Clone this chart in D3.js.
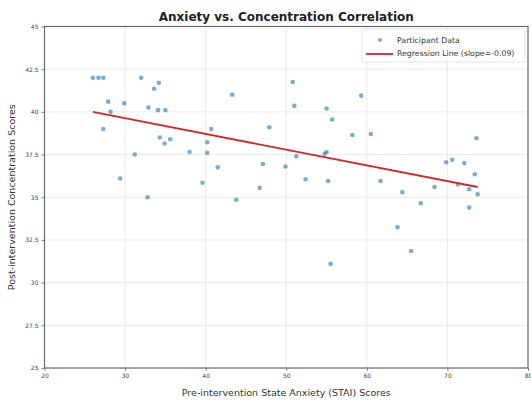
<!DOCTYPE html>
<html>
<head>
<meta charset="utf-8">
<script src="https://cdn.jsdelivr.net/npm/d3@7"></script>
<style>
  html, body { margin: 0; padding: 0; background: #fff; }
  svg { display: block; }
  text { font-family: "DejaVu Sans", sans-serif; }
</style>
</head>
<body>
<svg id="chart" width="531" height="400"></svg>
<script>
const anxiety = [26.0, 26.7, 27.3, 27.9, 28.2, 27.3, 29.4, 29.9, 31.2, 32.0,
  32.8, 32.9, 33.6, 34.2, 34.1, 35.0, 34.3, 34.9, 35.6, 38.0,
  39.6, 40.2, 40.2, 40.7, 41.5, 43.3, 43.8, 46.7, 47.1, 47.9,
  49.9, 50.8, 51.0, 51.25, 52.4, 54.75, 55.0, 55.0, 55.2, 55.5,
  55.7, 58.2, 59.3, 60.5, 61.7, 63.8, 64.4, 65.5, 66.7, 68.4,
  69.85, 70.6, 71.3, 72.1, 72.7, 72.7, 73.4, 73.6, 73.75];
const concentration = [42.0, 42.0, 42.0, 40.6, 40.0, 39.0, 36.1, 40.5, 37.5, 42.0,
  35.0, 40.25, 41.35, 41.7, 40.1, 40.1, 38.5, 38.15, 38.4, 37.65,
  35.85, 38.22, 37.6, 39.0, 36.75, 41.0, 34.85, 35.55, 36.95, 39.1,
  36.8, 41.75, 40.35, 37.4, 36.05, 37.55, 37.65, 40.2, 35.95, 31.1,
  39.55, 38.65, 40.95, 38.7, 35.95, 33.25, 35.3, 31.85, 34.65, 35.6,
  37.05, 37.2, 35.75, 37.0, 35.47, 34.4, 36.35, 38.45, 35.17];
const regressionX = [26.0, 73.75];
const regressionY = [40.0, 35.6];
const xTicks = [20, 30, 40, 50, 60, 70, 80];
const yTicks = [25, 27.5, 30, 32.5, 35, 37.5, 40, 42.5, 45];
const seriesNames = ["Participant Data", "Regression Line (slope=-0.09)"];
const titleText = "Anxiety vs. Concentration Correlation";
const xLabel = "Pre-intervention State Anxiety (STAI) Scores";
const yLabel = "Post-intervention Concentration Scores";

const svg = d3.select("#chart");
const m = {left: 44.5, right: 528, top: 26.5, bottom: 368};
const x = d3.scaleLinear().domain([20, 80]).range([m.left, m.right]);
const y = d3.scaleLinear().domain([25, 45]).range([m.bottom, m.top]);

// grid
const g = svg.append("g");
g.selectAll(".vg").data(xTicks).join("line")
  .attr("x1", d => x(d)).attr("x2", d => x(d))
  .attr("y1", m.top).attr("y2", m.bottom)
  .attr("stroke", "#e4e4e4").attr("stroke-width", 0.8);
g.selectAll(".hg").data(yTicks).join("line")
  .attr("y1", d => y(d)).attr("y2", d => y(d))
  .attr("x1", m.left).attr("x2", m.right)
  .attr("stroke", "#e4e4e4").attr("stroke-width", 0.8);

// axes
const fmt = d => (Number.isInteger(d) ? d3.format("d")(d) : d3.format(".1f")(d));
const xAxis = svg.append("g").attr("transform", `translate(0,${m.bottom})`)
  .call(d3.axisBottom(x).tickValues(xTicks).tickFormat(fmt).tickSizeInner(3).tickSizeOuter(0).tickPadding(3));
const yAxis = svg.append("g").attr("transform", `translate(${m.left},0)`)
  .call(d3.axisLeft(y).tickValues(yTicks).tickFormat(fmt).tickSizeInner(3).tickSizeOuter(0).tickPadding(3));
[xAxis, yAxis].forEach(a => {
  a.select(".domain").remove();
  a.selectAll(".tick line").attr("stroke", "#666").attr("stroke-width", 0.8);
  a.selectAll(".tick text").attr("fill", "#444").style("font-size", "6px").style("font-family", "DejaVu Sans");
});

// frame
svg.append("rect").attr("x", m.left).attr("y", m.top)
  .attr("width", m.right - m.left).attr("height", m.bottom - m.top)
  .attr("fill", "none").attr("stroke", "#6b6b6b").attr("stroke-width", 1.2);

// points
const pts = anxiety.map((a, i) => ({a, c: concentration[i]}));
svg.append("g").selectAll("circle").data(pts).join("circle")
  .attr("cx", d => x(d.a)).attr("cy", d => y(d.c)).attr("r", 2.3)
  .attr("fill", "#1f77b4").attr("fill-opacity", 0.6);

// regression line
const line = d3.line().x(d => x(d[0])).y(d => y(d[1]));
svg.append("path").datum(regressionX.map((v, i) => [v, regressionY[i]]))
  .attr("d", line).attr("fill", "none").attr("stroke", "#d62728").attr("stroke-width", 1.8);

// title
svg.append("text").attr("x", (m.left + m.right) / 2).attr("y", 21)
  .attr("text-anchor", "middle").style("font-size", "12px").style("font-weight", "bold")
  .attr("fill", "#222").text(titleText);

// axis labels
svg.append("text").attr("x", (m.left + m.right) / 2).attr("y", 396)
  .attr("text-anchor", "middle").style("font-size", "9.5px").attr("fill", "#333").text(xLabel);
svg.append("text").attr("transform", `translate(15,${(m.top + m.bottom) / 2}) rotate(-90)`)
  .attr("text-anchor", "middle").style("font-size", "9.5px").attr("fill", "#333").text(yLabel);

// legend
const lg = svg.append("g");
lg.append("rect").attr("x", 362).attr("y", 29).attr("width", 163).attr("height", 33)
  .attr("rx", 2).attr("fill", "#fff").attr("fill-opacity", 0.85).attr("stroke", "#ddd").attr("stroke-width", 0.8);
lg.append("circle").attr("cx", 380).attr("cy", 40).attr("r", 2)
  .attr("fill", "#1f77b4").attr("fill-opacity", 0.6);
lg.append("line").attr("x1", 366).attr("x2", 393).attr("y1", 54).attr("y2", 54)
  .attr("stroke", "#d62728").attr("stroke-width", 1.8);
lg.selectAll("text").data(seriesNames).join("text")
  .attr("x", 397).attr("y", (d, i) => 42.5 + i * 13.5)
  .style("font-size", "7.8px").attr("fill", "#333").text(d => d);
</script>
</body>
</html>
